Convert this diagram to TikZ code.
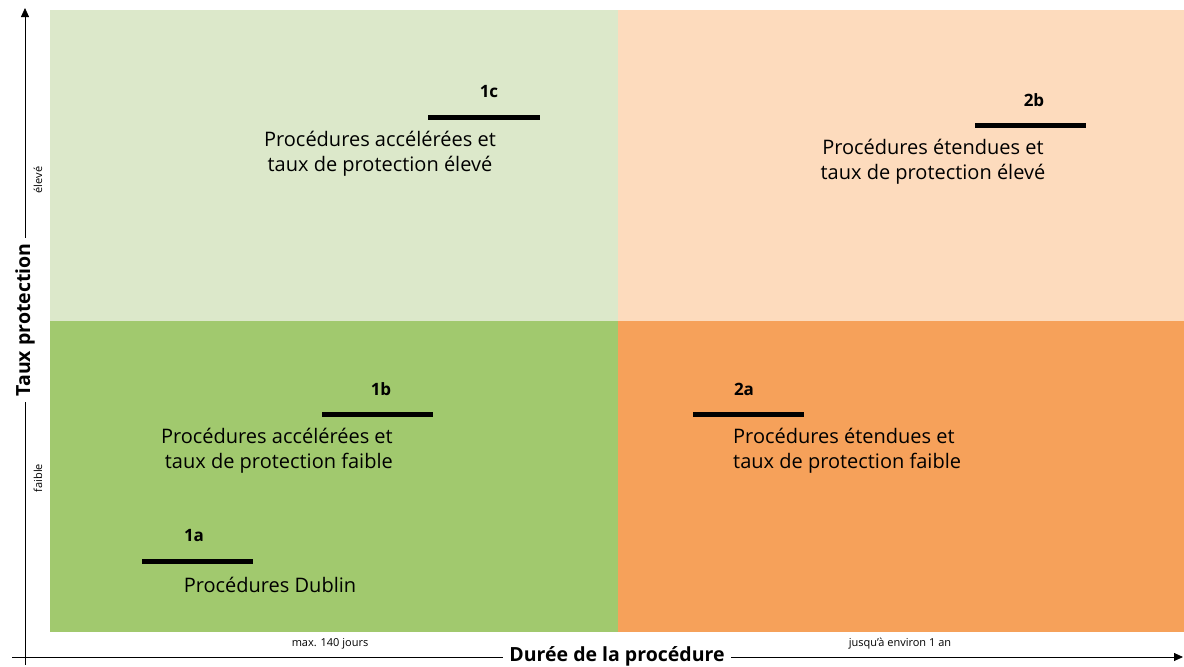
\documentclass[tikz,border=0pt]{standalone}
\usepackage{fontspec}
\setmainfont{Open Sans}
\usetikzlibrary{arrows.meta}
\definecolor{lgreen}{HTML}{DCE8CA}
\definecolor{dgreen}{HTML}{A1C96E}
\definecolor{lorange}{HTML}{FDDBBD}
\definecolor{dorange}{HTML}{F6A15A}
\tikzset{
  bar/.style={line width=5pt},
  num/.style={font=\fontsize{17}{20}\selectfont\bfseries, inner sep=0pt},
  desc/.style={font=\fontsize{20}{25}\selectfont, inner sep=0pt},
  tick/.style={font=\fontsize{11}{13}\selectfont, inner sep=0pt},
  axlab/.style={font=\fontsize{19.5}{21}\selectfont\bfseries, fill=white, inner xsep=6pt, inner ysep=1pt},
  axis/.style={line width=0.8pt, -{Triangle[length=9pt,width=8pt]}}
}
\begin{document}
\begin{tikzpicture}[x=1pt,y=-1pt]
\useasboundingbox (0,0) rectangle (1184,667);
\fill[lgreen] (50,10) rectangle (618,321);
\fill[lorange] (618,10) rectangle (1184,321);
\fill[dgreen] (50,321) rectangle (618,632);
\fill[dorange] (618,321) rectangle (1184,632);
% axes
\draw[axis] (25,665) -- (25,8);
\draw[axis] (12,657) -- (1183,657);
\node[axlab, rotate=90] (ylab) at (25,320) {Taux protection};
\node[axlab] (xlab) at (617,656) {Durée de la procédure};
\node[tick, rotate=90] (elev) at (38,180) {élevé};
\node[tick, rotate=90] (faib) at (38,478) {faible};
\node[tick] (max) at (330,644) {max. 140 jours};
\node[tick] (jusq) at (900,644) {jusqu'à environ 1 an};
% 1c
\coordinate (c1a) at (428,117); \coordinate (c1b) at (540,117);
\draw[bar] (c1a) -- (c1b);
\node[num] (n1c) at (489,92) {1c};
\node[desc, align=center] (t1c) at (380,154) {Procédures accélérées et\\taux de protection élevé};
% 2b
\coordinate (c2a) at (975,125); \coordinate (c2b) at (1086,125);
\draw[bar] (c2a) -- (c2b);
\node[num] (n2b) at (1034,100) {2b};
\node[desc, align=center] (t2b) at (933,162) {Procédures étendues et\\taux de protection élevé};
% 1b
\coordinate (b1a) at (322,414); \coordinate (b1b) at (433,414);
\draw[bar] (b1a) -- (b1b);
\node[num] (n1b) at (381,389) {1b};
\node[desc, align=right, anchor=east] (t1b) at (393,451) {Procédures accélérées et\\taux de protection faible};
% 2a
\coordinate (a2a) at (693,414); \coordinate (a2b) at (804,414);
\draw[bar] (a2a) -- (a2b);
\node[num] (n2a) at (744,389) {2a};
\node[desc, align=left, anchor=west] (t2a) at (733,451) {Procédures étendues et\\taux de protection faible};
% 1a
\coordinate (a1a) at (142,561); \coordinate (a1b) at (253,561);
\draw[bar] (a1a) -- (a1b);
\node[num] (n1a) at (194,536) {1a};
\node[desc] (t1a) at (270,585) {Procédures Dublin};
\end{tikzpicture}
\end{document}
